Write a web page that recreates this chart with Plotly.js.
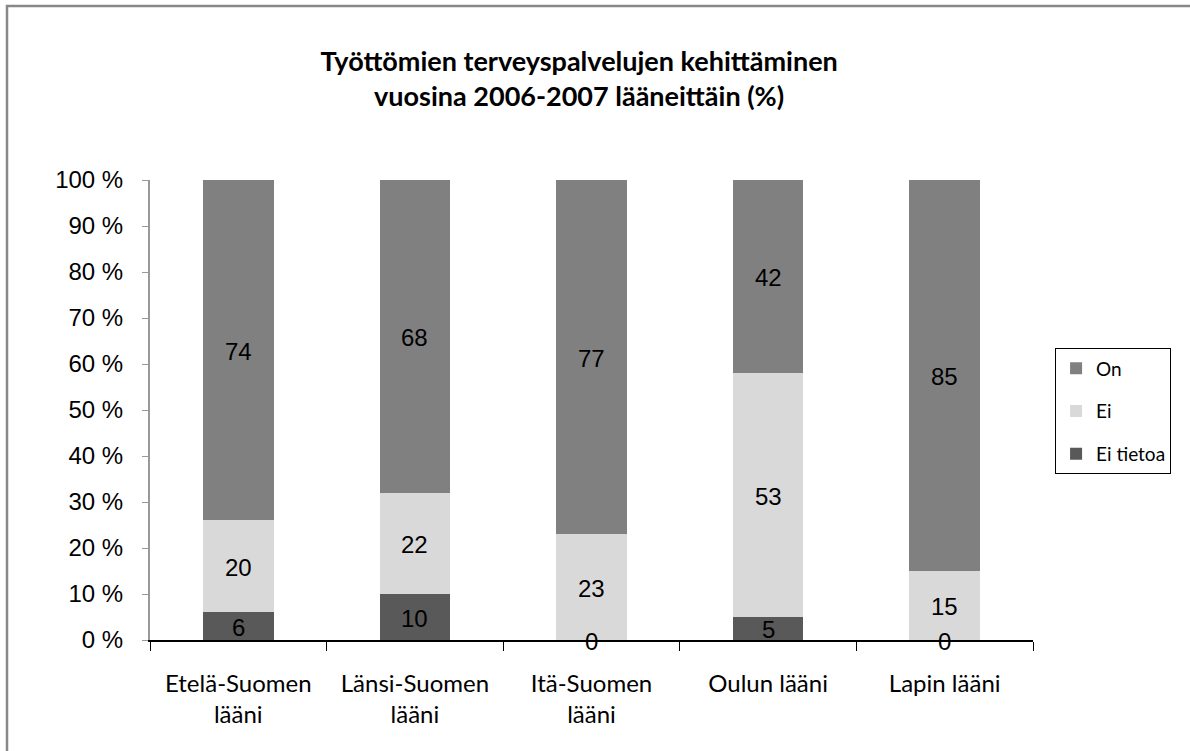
<!DOCTYPE html>
<html>
<head>
<meta charset="utf-8">
<script src="https://cdn.plot.ly/plotly-3.0.1.min.js"></script>
<style>html,body{margin:0;padding:0;background:#fff;}#chart{width:1190px;height:751px;}</style>
</head>
<body>
<div id="chart"></div>
<script>
const categories = ["Etelä-Suomen<br>lääni", "Länsi-Suomen<br>lääni", "Itä-Suomen<br>lääni", "Oulun lääni", "Lapin lääni"];
const eiTietoa = [6, 10, 0, 5, 0];
const ei = [20, 22, 23, 53, 15];
const on = [74, 68, 77, 42, 85];
const yTickVals = [0, 10, 20, 30, 40, 50, 60, 70, 80, 90, 100];
const yTickText = ["0 %", "10 %", "20 %", "30 %", "40 %", "50 %", "60 %", "70 %", "80 %", "90 %", "100 %"];

const colors = {on: "#808080", ei: "#d9d9d9", eiTietoa: "#595959"};

const traces = [
  {type: "bar", name: "Ei tietoa", legendgroup: "c", legendrank: 3, x: categories, y: eiTietoa, marker: {color: colors.eiTietoa}, hoverinfo: "none"},
  {type: "bar", name: "Ei", legendgroup: "b", legendrank: 2, x: categories, y: ei, marker: {color: colors.ei}, hoverinfo: "none"},
  {type: "bar", name: "On", legendgroup: "a", legendrank: 1, x: categories, y: on, marker: {color: colors.on}, hoverinfo: "none"}
];

const annotations = [];
const labelFont = {family: "Liberation Sans, Arial, sans-serif", size: 24, color: "#000"};
categories.forEach((c, i) => {
  const s = [eiTietoa[i], ei[i], on[i]];
  let base = 0;
  s.forEach(v => {
    annotations.push({x: c, y: base + v / 2, xref: "x", yref: "y", text: String(v), showarrow: false, font: labelFont, yshift: -1});
    base += v;
  });
});

const layout = {
  width: 1190, height: 751,
  margin: {l: 150, r: 157, t: 180, b: 111},
  paper_bgcolor: "#fff", plot_bgcolor: "#fff",
  barmode: "stack", bargap: 0.6,
  showlegend: true,
  legend: {
    x: 1.025, y: 0.497, xanchor: "left", yanchor: "middle",
    traceorder: "grouped",
    bordercolor: "#000", borderwidth: 1,
    font: {family: "Lato, Open Sans, sans-serif", size: 19, color: "#000"},
    itemwidth: 30, tracegroupgap: 15
  },
  title: {
    text: "<b>Työttömien terveyspalvelujen kehittäminen<br>vuosina 2006-2007 lääneittäin (%)</b>",
    x: 0.486, xref: "paper", y: 0.905, yanchor: "middle",
    font: {family: "Lato, Open Sans, sans-serif", size: 27, color: "#000"}
  },
  xaxis: {
    type: "category",
    showline: true, linecolor: "#000", linewidth: 2,
    ticks: "outside", tickson: "boundaries", ticklen: 9, tickcolor: "#000", tickwidth: 1,
    tickfont: {family: "Lato, Open Sans, sans-serif", size: 24, color: "#000"},
    ticklabelstandoff: 21,
    showgrid: false, zeroline: false, fixedrange: true
  },
  yaxis: {
    range: [0, 100],
    tickvals: yTickVals, ticktext: yTickText,
    showline: true, linecolor: "#999", linewidth: 2,
    ticks: "outside", ticklen: 6, tickcolor: "#999",
    tickfont: {family: "Liberation Sans, Arial, sans-serif", size: 24, color: "#000"},
    ticklabelstandoff: 14,
    showgrid: false, zeroline: false, fixedrange: true
  },
  annotations: annotations,
  shapes: [{
    type: "rect", xref: "paper", yref: "paper",
    x0: (7 - 150) / 883, x1: (1300 - 150) / 883,
    y0: (640 - 900) / 460, y1: (640 - 6) / 460,
    line: {color: "#888", width: 2.5}, fillcolor: "rgba(0,0,0,0)", layer: "below"
  }]
};

Plotly.newPlot("chart", traces, layout, {displayModeBar: false, staticPlot: true});
</script>
</body>
</html>
